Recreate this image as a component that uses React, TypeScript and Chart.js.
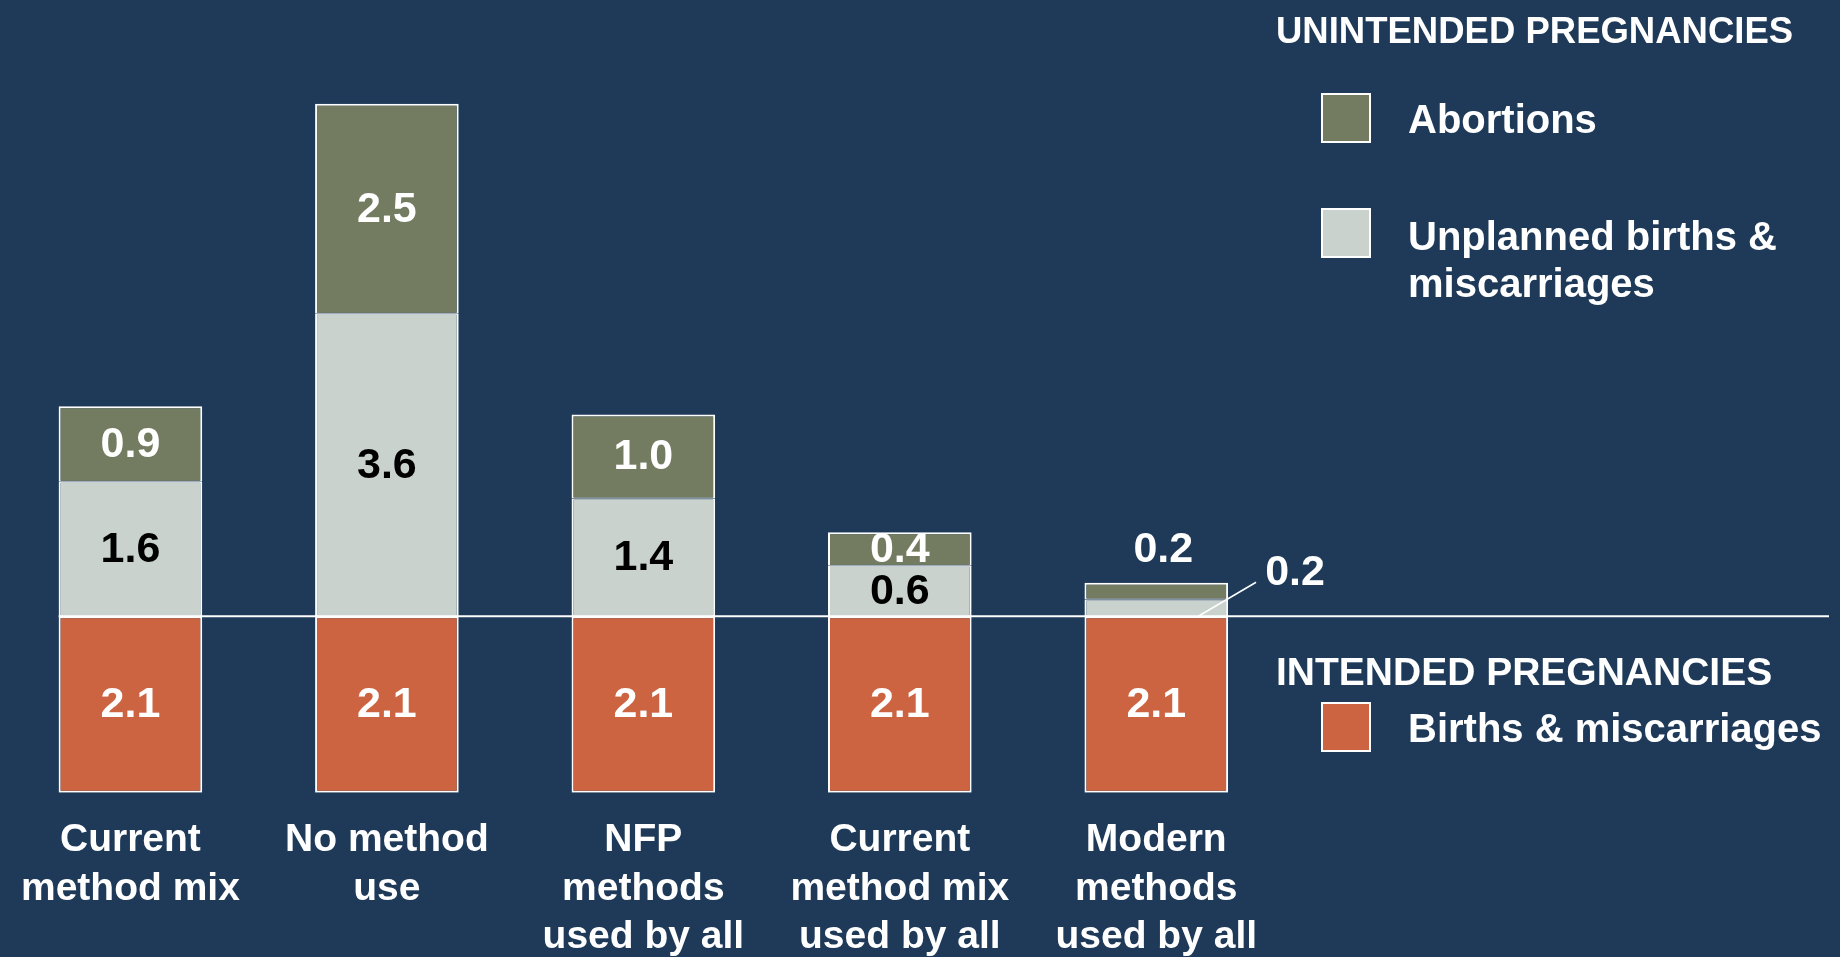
import React, { useEffect, useRef } from "react";
import { Chart, registerables } from "chart.js";

Chart.register(...registerables);

// ---- data ----
const categories: string[][] = [
  ["Current", "method mix"],
  ["No method", "use"],
  ["NFP", "methods", "used by all"],
  ["Current", "method mix", "used by all"],
  ["Modern", "methods", "used by all"],
];
const births: number[] = [2.1, 2.1, 2.1, 2.1, 2.1];
const unplannedBirths: number[] = [1.6, 3.6, 1.4, 0.6, 0.2];
const abortions: number[] = [0.9, 2.5, 1.0, 0.4, 0.2];

const yMin = -2.1;
const yMax = 7;

// ---- styles ----
const BG = "#1e3a58";
const ORANGE = "#cc6442";
const LIGHT = "#c9d2cd";
const OLIVE = "#737c61";
const WHITE = "#ffffff";
const FONT = '"Liberation Sans", Arial, Helvetica, sans-serif';
const OX = 2; // canvas is shifted 2px left on the page

const valueLabelPlugin = {
  id: "valueLabels",
  afterDatasetsDraw(chart: any) {
    const ctx = chart.ctx;
    const yScale = chart.scales.y;
    const zeroY = yScale.getPixelForValue(0);
    // zero (separator) line
    const firstBar = chart.getDatasetMeta(0).data[0];
    ctx.save();
    ctx.strokeStyle = WHITE;
    ctx.lineWidth = 2;
    ctx.beginPath();
    ctx.moveTo(firstBar.x - firstBar.width / 2, zeroY);
    ctx.lineTo(1829 + OX, zeroY);
    ctx.stroke();

    ctx.font = `bold 43px ${FONT}`;
    ctx.textAlign = "center";
    ctx.textBaseline = "middle";
    chart.data.datasets.forEach((ds: any, di: number) => {
      const meta = chart.getDatasetMeta(di);
      meta.data.forEach((el: any, i: number) => {
        const p = el.getProps(["x", "y", "base", "width"], true);
        const top = Math.min(p.y, p.base);
        const bottom = Math.max(p.y, p.base);
        const h = bottom - top;
        const txt = Math.abs(ds.data[i]).toFixed(1);
        const right = p.x + p.width / 2;
        if (ds.key === "abortions" && h < 22) {
          ctx.fillStyle = WHITE;
          ctx.fillText(txt, p.x + 7, top - 33);
        } else if (ds.key === "unplanned" && h < 25) {
          ctx.strokeStyle = WHITE;
          ctx.lineWidth = 1.5;
          ctx.beginPath();
          ctx.moveTo(p.x + 42, bottom);
          ctx.lineTo(right + 28, bottom - 34);
          ctx.stroke();
          ctx.fillStyle = WHITE;
          ctx.fillText(txt, right + 67, bottom - 43);
        } else {
          ctx.fillStyle = ds.key === "unplanned" ? "#000000" : WHITE;
          ctx.fillText(txt, p.x, (top + bottom) / 2 + 1);
        }
      });
    });
    ctx.restore();
  },
};

const legendPlugin = {
  id: "customLegend",
  afterDraw(chart: any) {
    const ctx = chart.ctx;
    ctx.save();
    ctx.translate(OX, 0);
    ctx.fillStyle = WHITE;
    ctx.textAlign = "left";
    ctx.textBaseline = "alphabetic";
    ctx.font = `bold 36.5px ${FONT}`;
    ctx.fillText("UNINTENDED PREGNANCIES", 1276, 43);
    ctx.font = `bold 39px ${FONT}`;
    ctx.fillText("INTENDED PREGNANCIES", 1276, 685);

    const swatch = (x: number, y: number, color: string) => {
      ctx.fillStyle = color;
      ctx.fillRect(x, y, 50, 50);
      ctx.strokeStyle = WHITE;
      ctx.lineWidth = 2;
      ctx.strokeRect(x + 1, y + 1, 48, 48);
    };
    swatch(1321, 93, OLIVE);
    swatch(1321, 208, LIGHT);
    swatch(1321, 702, ORANGE);

    ctx.fillStyle = WHITE;
    ctx.font = `bold 40px ${FONT}`;
    ctx.fillText("Abortions", 1408, 133);
    ctx.fillText("Unplanned births &", 1408, 250);
    ctx.fillText("miscarriages", 1408, 297);
    ctx.fillText("Births & miscarriages", 1408, 742);
    ctx.restore();
  },
};

export default function App() {
  const canvasRef = useRef<HTMLCanvasElement | null>(null);

  useEffect(() => {
    document.body.style.margin = "0";
    const canvas = canvasRef.current;
    if (!canvas) return;
    const chart = new Chart(canvas, {
      type: "bar",
      data: {
        labels: categories,
        datasets: [
          {
            key: "births",
            label: "Births & miscarriages",
            data: births.map((v) => -v),
            backgroundColor: ORANGE,
            borderColor: WHITE,
            borderWidth: { top: 2, left: 2, right: 2, bottom: 2 },
            borderSkipped: false,
          } as any,
          {
            key: "unplanned",
            label: "Unplanned births & miscarriages",
            data: unplannedBirths,
            backgroundColor: LIGHT,
            borderColor: WHITE,
            borderWidth: { top: 1, left: 2, right: 2, bottom: 1 },
            borderSkipped: false,
          } as any,
          {
            key: "abortions",
            label: "Abortions",
            data: abortions,
            backgroundColor: OLIVE,
            borderColor: WHITE,
            borderWidth: { top: 2, left: 2, right: 2, bottom: 1 },
            borderSkipped: false,
          } as any,
        ],
      },
      options: {
        responsive: false,
        animation: false,
        events: [],
        layout: { padding: { left: 0, right: 555.5, top: 28, bottom: 0 } },
        datasets: {
          bar: { categoryPercentage: 1, barPercentage: 0.56 },
        },
        plugins: {
          legend: { display: false },
          tooltip: { enabled: false },
          title: { display: false },
        },
        scales: {
          x: {
            stacked: true,
            grid: { display: false, drawTicks: false },
            border: { display: false },
            ticks: {
              color: WHITE,
              padding: 23,
              maxRotation: 0,
              autoSkip: false,
              font: { family: FONT, size: 39, weight: "bold", lineHeight: 1.25 },
            },
          },
          y: {
            stacked: true,
            display: false,
            min: yMin,
            max: yMax,
          },
        },
      },
      plugins: [valueLabelPlugin, legendPlugin],
    } as any);
    return () => chart.destroy();
  }, []);

  return (
    <div
      style={{
        position: "fixed",
        left: 0,
        top: 0,
        width: 1840,
        height: 957,
        background: BG,
        overflow: "hidden",
      }}
    >
      <canvas
        ref={canvasRef}
        width={1842}
        height={985}
        style={{ display: "block", position: "absolute", left: -OX, top: 0 }}
      />
    </div>
  );
}
